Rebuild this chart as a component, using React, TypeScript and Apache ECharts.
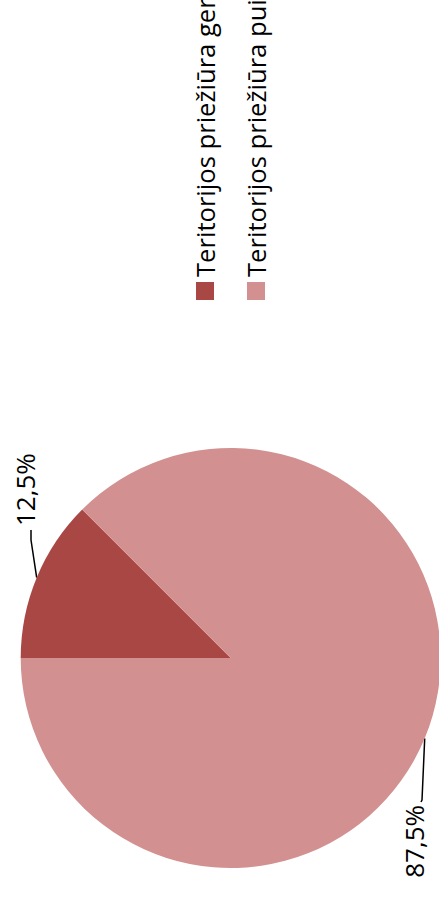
import React, { useEffect, useRef } from "react";
import * as echarts from "echarts";

const categories = ["Teritorijos priežiūra gera", "Teritorijos priežiūra puiki"];
const values = [1, 7];
const colors = ["#A94745", "#D29190"];

// label anchor positions (unrotated chart frame), layout only
const labelPos = [
  { x: 371, y: 25, align: "left", bend: [357, 31], end: [367, 31] },
  { x: 92, y: 414, align: "right", bend: [97, 422], end: [95, 421] },
];

export default function App() {
  const ref = useRef<HTMLDivElement>(null);
  useEffect(() => {
    if (!ref.current) return;
    const chart = echarts.init(ref.current, null, { renderer: "svg", width: 897, height: 439 });
    chart.setOption({
      animation: false,
      color: colors,
      legend: {
        orient: "vertical",
        left: 597,
        top: 192,
        padding: 0,
        icon: "rect",
        itemWidth: 18,
        itemHeight: 18,
        itemGap: 25,
        itemTextGap: 6,
        itemStyle: { borderWidth: 0 },
        textStyle: { fontFamily: "Open Sans", fontSize: 25.6, color: "#000" },
        data: categories,
      },
      series: [
        {
          type: "pie",
          center: [239, 230.7],
          radius: 210,
          startAngle: 90,
          clockwise: true,
          itemStyle: { borderWidth: 0 },
          label: {
            show: true,
            position: "outside",
            fontFamily: "Open Sans",
            fontSize: 26,
            color: "#000",
            formatter: (p: any) => p.percent.toFixed(1).replace(".", ",") + "%",
          },
          labelLine: { show: true, length: 30, length2: 10, lineStyle: { color: "#000", width: 1.5 } },
          labelLayout: (params: any) => {
            const lp = labelPos[params.dataIndex];
            const start = params.labelLinePoints ? params.labelLinePoints[0] : lp.bend;
            return {
              x: lp.x,
              y: lp.y,
              align: lp.align,
              verticalAlign: "middle",
              labelLinePoints: [[start[0], start[1]], lp.bend, lp.end],
            };
          },
          data: categories.map((c, i) => ({ name: c, value: values[i] })),
        },
      ],
    });
    return () => chart.dispose();
  }, []);
  return (
    <div style={{ position: "fixed", left: 0, top: 0, width: 439, height: 897, overflow: "hidden", background: "#fff" }}>
      <div
        ref={ref}
        style={{
          position: "absolute",
          left: 0,
          top: 0,
          width: 897,
          height: 439,
          transformOrigin: "0 0",
          transform: "translate(0px, 897px) rotate(-90deg)",
        }}
      />
    </div>
  );
}
